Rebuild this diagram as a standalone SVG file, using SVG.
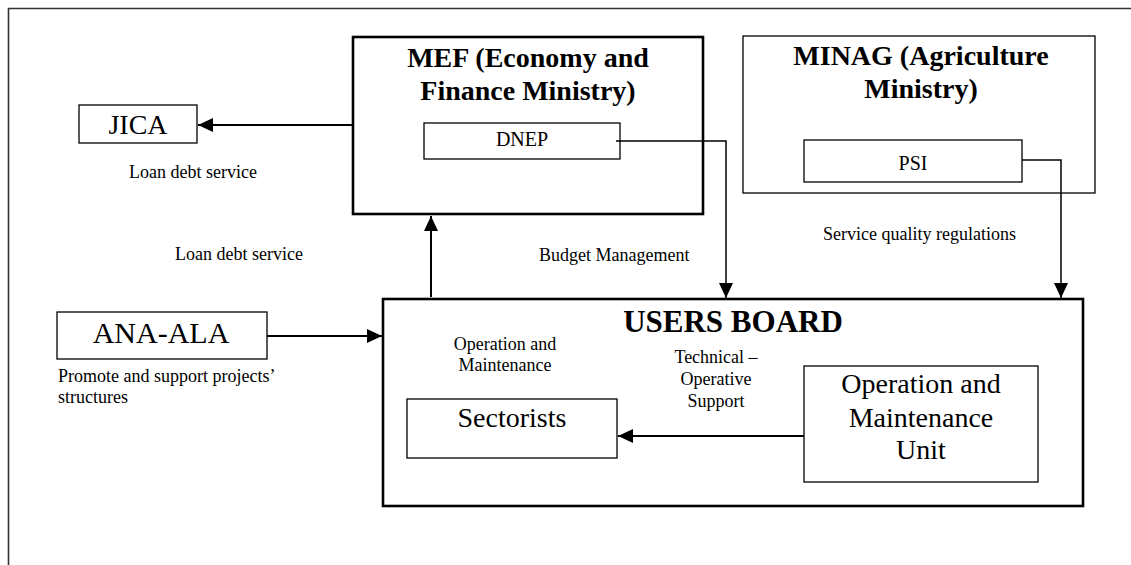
<svg xmlns="http://www.w3.org/2000/svg" width="1131" height="565" viewBox="0 0 1131 565">
<defs>
<style>
text{font-family:"Liberation Serif","Times New Roman",serif;fill:#000}
.lbl{font-size:18px}
.big{font-size:28px}
.bold{font-weight:bold}
.mid{text-anchor:middle}
.thin{fill:#fff;stroke:#000;stroke-width:1.3}
.thick{fill:#fff;stroke:#000;stroke-width:2.6}
.conn{fill:none;stroke:#000;stroke-width:2}
.conn2{fill:none;stroke:#000;stroke-width:1.5}
</style>
<marker id="ah" markerUnits="userSpaceOnUse" markerWidth="16" markerHeight="16" viewBox="0 0 16 16" refX="15" refY="8" orient="auto">
<path d="M0,1 L15,8 L0,15 Z" fill="#000"/>
</marker>
</defs>
<rect width="1131" height="565" fill="#fff"/>
<path d="M8.5,565 V8.5 H1131" fill="none" stroke="#333" stroke-width="1.6"/>

<g id="mef">
<rect class="thick" x="353" y="37" width="350" height="177"/>
<text class="big bold mid" x="528" y="67">MEF (Economy and</text>
<text class="big bold mid" x="528" y="100">Finance Ministry)</text>
</g>
<g id="dnep">
<rect class="thin" x="424" y="123" width="196" height="36"/>
<text class="mid" x="522" y="146" font-size="20">DNEP</text>
</g>
<g id="minag">
<rect class="thin" x="743" y="36" width="352" height="157"/>
<text class="big bold mid" x="921" y="65">MINAG (Agriculture</text>
<text class="big bold mid" x="921" y="98">Ministry)</text>
</g>
<g id="psi">
<rect class="thin" x="804" y="140" width="218" height="42"/>
<text class="mid" x="913" y="170" font-size="20">PSI</text>
</g>
<g id="jica">
<rect class="thin" x="79" y="105" width="118" height="38"/>
<text class="big mid" x="138" y="134">JICA</text>
</g>
<g id="ana-ala">
<rect class="thin" x="57" y="312" width="210" height="47"/>
<text class="mid" x="161" y="343" font-size="30">ANA-ALA</text>
</g>
<g id="users-board">
<rect class="thick" x="383" y="299" width="700" height="207"/>
<text class="bold mid" x="733" y="332" font-size="31">USERS BOARD</text>
</g>
<g id="sectorists">
<rect class="thin" x="407" y="399" width="210" height="59"/>
<text class="big mid" x="512" y="427">Sectorists</text>
</g>
<g id="om-unit">
<rect class="thin" x="804" y="366" width="234" height="116"/>
<text class="big mid" x="921" y="393">Operation and</text>
<text class="big mid" x="921" y="427">Maintenance</text>
<text class="big mid" x="921" y="459">Unit</text>
</g>

<g id="connectors">
<path class="conn" d="M353,125 H198" marker-end="url(#ah)"/>
<path class="conn2" d="M616,141 H726 V298" marker-end="url(#ah)"/>
<path class="conn2" d="M1022,160 H1061 V298" marker-end="url(#ah)"/>
<path class="conn" d="M431,297 V216" marker-end="url(#ah)"/>
<path class="conn" d="M267,336 H382" marker-end="url(#ah)"/>
<path class="conn" d="M804,436 H618" marker-end="url(#ah)"/>
</g>

<g id="labels">
<text class="lbl" x="129" y="178">Loan debt service</text>
<text class="lbl" x="175" y="260">Loan debt service</text>
<text class="lbl" x="539" y="261">Budget Management</text>
<text class="lbl" x="823" y="240">Service quality regulations</text>
<text class="lbl" x="58" y="382">Promote and support projects’</text>
<text class="lbl" x="58" y="403">structures</text>
<text class="lbl mid" x="505" y="350">Operation and</text>
<text class="lbl mid" x="505" y="371">Maintenance</text>
<text class="lbl mid" x="716" y="363">Technical –</text>
<text class="lbl mid" x="716" y="385">Operative</text>
<text class="lbl mid" x="716" y="407">Support</text>
</g>
</svg>
